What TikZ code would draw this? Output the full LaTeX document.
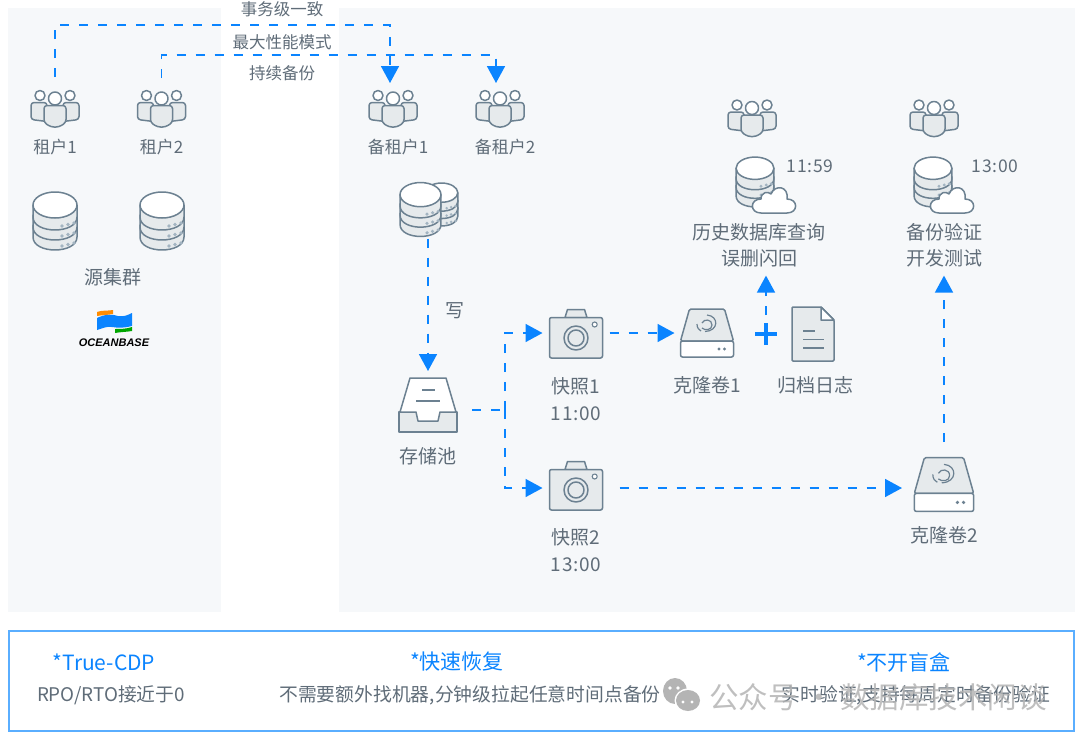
\documentclass[tikz,border=0pt]{standalone}
\usepackage{fontspec}
\setmainfont{Noto Sans CJK SC}
\newfontfamily\timefont[LetterSpace=4]{Noto Sans CJK SC}
\newfontfamily\logofont{Liberation Sans}
\usetikzlibrary{positioning,calc}
\usetikzlibrary{arrows.meta}
\definecolor{linkblue}{HTML}{0A84FF}
\definecolor{framblue}{HTML}{5AAEFF}
\definecolor{panel}{HTML}{F6F8FA}
\definecolor{txtgray}{HTML}{5F6C78}
\definecolor{iconline}{HTML}{6C8191}
\definecolor{iconfill}{HTML}{E6EAEC}
\definecolor{icondot}{HTML}{A3B4C1}
\definecolor{markgray}{HTML}{B4B4B4}
\tikzset{
	slot/.style 2 args={minimum width=#1pt,minimum height=#2pt,inner sep=0pt,outer sep=0pt},
	tag/.style={inner sep=0pt,text height=15.5pt,text depth=0.5pt,text=txtgray,font=\fontsize{19}{22}\selectfont},
	tagsmall/.style={tag,font=\fontsize{17}{20}\selectfont},
	toptag/.style={tag,font=\fontsize{16.5}{20}\selectfont},
	clock/.style={tag,font=\fontsize{19}{22}\selectfont\timefont},
	clocksmall/.style={tag,font=\fontsize{17.5}{20}\selectfont\timefont},
	head/.style={inner sep=0pt,text=linkblue,font=\fontsize{21}{24}\selectfont},
	note/.style={inner sep=0pt,text=txtgray,font=\fontsize{18.8}{22}\selectfont},
	link/.style={draw=linkblue,line width=1.7pt,dash pattern=on 9pt off 10pt},
	linkto/.style={link,-{Triangle[length=17pt,width=18pt]}},
	icon/.style={draw=iconline,line width=1.5pt,fill=iconfill,line join=round},
	iconw/.style={draw=iconline,line width=1.5pt,fill=white,line join=round},
	thin line/.style={draw=iconline,line width=1.2pt},
	crowd/.pic={
		\foreach \s in {-1,1}{
			\draw[icon,rounded corners=3pt] (\s*24,-6) -- (\s*24,11) -- (\s*8,13) -- (\s*8,-6) -- cycle;
			\draw[iconw] (\s*15,-13) circle (5pt);
		}
		\draw[icon,rounded corners=3pt] (-11,-3) -- (-11,14) -- (-4,18.5) -- (4,18.5) -- (11,14) -- (11,-3) -- cycle;
		\draw[iconw] (0,-10) circle (6.5pt);
	},
	dbase/.pic={
		\foreach \y in {16,6,-4}{
			\draw[icon] (-22,\y-12) -- (-22,\y) .. controls (-22,\y+17.3) and (22,\y+17.3) .. (22,\y) -- (22,\y-12) -- cycle;
			\foreach \d/\e in {8/1,14/0,20/-1}
				\fill[icondot] (\d-1,\y+7.5+\e*1.5) circle (1.9pt);
		}
		\draw[iconw] (0,-16) ellipse (22pt and 13pt);
	},
	cloudlet/.pic={
		\draw[iconw] (-13,13) .. controls (-24.5,13) and (-24.5,-1) .. (-13,-1)
			.. controls (-13,-8) and (-6,-9) .. (-3,-6)
			.. controls (1,-16) and (15,-14) .. (13,-1)
			.. controls (24.5,-1) and (24.5,13) .. (13,13) -- cycle;
	},
	dbcloud/.pic={
		\pic[scale=0.86,transform shape] at (-10.5,-3) {dbase};
		\pic at (8.5,15) {cloudlet};
	},
	camera/.pic={
		\draw[icon] (-11,-16) -- (-8.5,-24) -- (8.5,-24) -- (11,-16) -- cycle;
		\draw[icon,rounded corners=2pt] (-26.5,-16) rectangle (26.5,24.5);
		\draw[icon] (0,4.5) circle (12pt);
		\draw[icon] (0,4.5) circle (8pt);
		\draw[iconw,line width=1.1pt] (18.7,-9) circle (2.5pt);
	},
	volume/.pic={
		\draw[icon,rounded corners=1.5pt] (-17.5,-24) -- (17.5,-24) -- (26.5,8) -- (-26.5,8) -- cycle;
		\draw[iconw,rounded corners=2pt] (-26.5,8) rectangle (26.5,24);
		\draw[thin line] (0,-18) .. controls (12,-17) and (12,-2) .. (-2,-1.5);
		\draw[thin line] (-5,-10) .. controls (-3,-14.5) and (5,-14) .. (5,-8) .. controls (5,-3) and (-2,-2) .. (-5,-5);
		\draw[thin line] (-10,-9) .. controls (-10,-5) and (-8,-3) .. (-6,-2);
		\fill[iconline] (12,16) circle (1.6pt) (17.5,16) circle (1.6pt);
	},
	inbox/.pic={
		\draw[icon] (-29,2) -- (29,2) -- (29,22) -- (-29,22) -- cycle;
		\draw[iconw] (-28,2) -- (-18,-32) -- (18,-32) -- (28,2) -- (12,2) -- (10,11) -- (-10,11) -- (-12,2) -- cycle;
		\draw[thin line] (-6,-20) -- (7,-20);
		\draw[thin line] (-12,-9) -- (12,-9);
	},
	paper/.pic={
		\draw[icon,rounded corners=1pt] (-21,-27) -- (8,-27) -- (21,-14) -- (21,27) -- (-21,27) -- cycle;
		\draw[iconw] (8,-27) -- (8,-14) -- (21,-14) -- cycle;
		\draw[thin line] (-10,-3) -- (2,-3);
		\draw[thin line] (-10,5.5) -- (11,5.5);
		\draw[thin line] (-10,14) -- (11,14);
	},
}

\begin{document}
\begin{tikzpicture}[x=1pt,y=-1pt]
	\useasboundingbox (0,0) rectangle (1080,740);

	% Panels
	\fill[panel] (8,8) rectangle (221,612);
	\fill[panel] (339,8) rectangle (1075,612);
	\draw[framblue,line width=2pt] (8.5,630.5) rectangle (1074,731);

	% Tenants
	\node[slot={48}{36}] (usr1) at (55,108.5) {};
	\node[slot={48}{36}] (usr2) at (161.5,108.5) {};
	\node[slot={48}{36}] (bak1) at (393,108.5) {};
	\node[slot={48}{36}] (bak2) at (500,108.5) {};
	\pic at (usr1) {crowd};
	\pic at (usr2) {crowd};
	\pic at (bak1) {crowd};
	\pic at (bak2) {crowd};
	\node[tagsmall,below=11.5pt of usr1] (usr1txt) {租户1};
	\node[tagsmall,below=11.5pt of usr2] (usr2txt) {租户2};
	\node[tagsmall,below=11.5pt of bak1,xshift=5pt] (bak1txt) {备租户1};
	\node[tagsmall,below=11.5pt of bak2,xshift=5pt] (bak2txt) {备租户2};

	% Source cluster
	\node[slot={44}{58}] (src1) at (55,221) {};
	\node[slot={44}{58}] (src2) at (162,221) {};
	\pic at (src1) {dbase};
	\pic at (src2) {dbase};
	\node[tag] (srctxt) at (113,277) {源集群};

	% Logo
	\fill[orange!90!yellow] (97,312) .. controls (102,310) and (108,311) .. (113,310) -- (113,314) .. controls (108,315) and (102,315) .. (97,316) -- cycle;
	\fill[linkblue] (97,318) .. controls (105,314) and (112,314) .. (118,316) .. controls (124,317) and (128,315) .. (132,313) -- (132,326) .. controls (125,328) and (118,328) .. (112,327) .. controls (106,326) and (101,329) .. (97,330) -- cycle;
	\fill[green!65!black] (115,329) .. controls (120,329) and (126,329) .. (132,327) -- (132,331) .. controls (126,332) and (120,332) .. (115,333) -- cycle;
	\node[inner sep=0pt,text=black,font=\fontsize{11}{12}\selectfont\logofont\bfseries\itshape] (logotxt) at (114,342.5) {OCEANBASE};

	% Replication
	\node[toptag] (mode1) at (282,8) {事务级一致};
	\node[toptag] (mode2) at (282,41) {最大性能模式};
	\node[toptag] (mode3) at (282,72) {持续备份};
	\coordinate (wire1) at (282,25);
	\coordinate (wire2) at (282,55);
	\draw[linkto,shorten <=13.5pt,shorten >=7.5pt] (usr1.north) |- (wire1) -| ([xshift=-3pt]bak1.north);
	\draw[linkto,shorten <=12.5pt,shorten >=7.5pt] (usr2.north) |- (wire2) -| ([xshift=-4pt]bak2.north);

	% Pool and snapshots
	\node[slot={58}{58}] (dbs) at (421,209.5) {};
	\pic[scale=0.74,transform shape] at (441.5,204.5) {dbase};
	\pic[scale=0.93,transform shape] at (420.5,209.5) {dbase};
	\node[slot={58}{64}] (pool) at (428,410) {};
	\pic at (pool) {inbox};
	\node[tag] (writetxt) at (455,310) {写};
	\node[tag,below=6pt of pool] (pooltxt) {存储池};
	\draw[linkto,shorten >=7pt] (dbs.south -| pool.north) -- (pool.north);

	\node[slot={53}{49}] (cam1) at (576,333) {};
	\node[slot={53}{49}] (cam2) at (576,488) {};
	\pic at (576,333.5) {camera};
	\pic at (576,485.5) {camera};
	\node[tag,below=20pt of cam1] (cam1txt) {快照1};
	\node[clock,below=11pt of cam1txt] (cam1time) {11:00};
	\node[tag,below=16pt of cam2] (cam2txt) {快照2};
	\node[clock,below=11pt of cam2txt] (cam2time) {13:00};
	\coordinate (fork) at (505,410);
	\draw[link,shorten <=15pt] (pool.east) -- (fork);
	\draw[linkto,shorten >=7pt] (fork) |- (cam1.west);
	\draw[linkto,shorten >=7pt] (fork) |- (cam2.west);

	% Clones
	\node[slot={53}{48}] (vol1) at (707,333) {};
	\pic at (vol1) {volume};
	\node[tag,below=20pt of vol1] (vol1txt) {克隆卷1};
	\node[slot={60}{54}] (vol2) at (944,488) {};
	\pic[scale=1.12,transform shape] at (944,484.5) {volume};
	\node[tag,below=12pt of vol2] (vol2txt) {克隆卷2};
	\draw[linkto,shorten <=7pt,shorten >=6pt] (cam1.east) -- (vol1.west);
	\draw[linkto,shorten <=17pt,shorten >=12pt] (cam2.east) -- (vol2.west);

	% Log
	\node[slot={22}{22}] (plusmark) at (766,334) {};
	\draw[linkblue,line width=4pt] (plusmark.north) -- (plusmark.south);
	\draw[linkblue,line width=4pt] (plusmark.west) -- (plusmark.east);
	\node[slot={42}{54}] (log) at (813,334) {};
	\pic at (log) {paper};
	\node[tag,below=16pt of log,xshift=2pt] (logtxt) {归档日志};

	% Restored databases
	\node[slot={48}{36}] (qry) at (752,118) {};
	\node[slot={48}{36}] (tst) at (934,118) {};
	\pic at (qry) {crowd};
	\pic at (tst) {crowd};
	\node[slot={59}{56}] (qrydb) at (765.5,185) {};
	\node[slot={59}{56}] (tstdb) at (943.5,185) {};
	\pic at (qrydb) {dbcloud};
	\pic at (tstdb) {dbcloud};
	\node[clocksmall] (qrytime) at (810,165) {11:59};
	\node[clocksmall] (tsttime) at (995,165) {13:00};
	\node[tag] (qrytxt1) at (759,232) {历史数据库查询};
	\node[tag,below=10pt of qrytxt1] (qrytxt2) {误删闪回};
	\node[tag] (tsttxt1) at (944,232) {备份验证};
	\node[tag,below=10pt of tsttxt1] (tsttxt2) {开发测试};
	\draw[linkto,shorten <=8pt,shorten >=9pt] (plusmark.north) -- (plusmark.north |- qrytxt2.south);
	\draw[linkto,shorten <=19pt,shorten >=9pt] (vol2.north) -- (tsttxt2.south);

	% Summary
	\node[head] (sum1) at (104,662) {*True-CDP};
	\node[head] (sum2) at (457,662) {*快速恢复};
	\node[head] (sum3) at (904,662) {*不开盲盒};
	\node[note] (sum1txt) at (111,695.5) {RPO/RTO接近于0};
	\node[note] (sum2txt) at (470,695.5) {不需要额外找机器,分钟级拉起任意时间点备份};
	\node[note] (sum3txt) at (916,695.5) {实时验证,支持每周定时备份验证};

	% Watermark
	\fill[markgray] (675,691) ellipse (12pt and 13pt);
	\fill[white] (688,700.5) ellipse (13.5pt and 12pt);
	\fill[markgray] (688,700.5) ellipse (12pt and 10.5pt);
	\fill[white] (670,688) circle (1.8pt) (678,688) circle (1.8pt) (683,702) circle (1.6pt) (692,702) circle (1.6pt);
	\node[inner sep=0pt,text=markgray,text opacity=0.85,font=\fontsize{29.5}{32}\selectfont] (marktxt) at (878,697) {公众号 · 数据库技术闲谈};
\end{tikzpicture}
\end{document}
